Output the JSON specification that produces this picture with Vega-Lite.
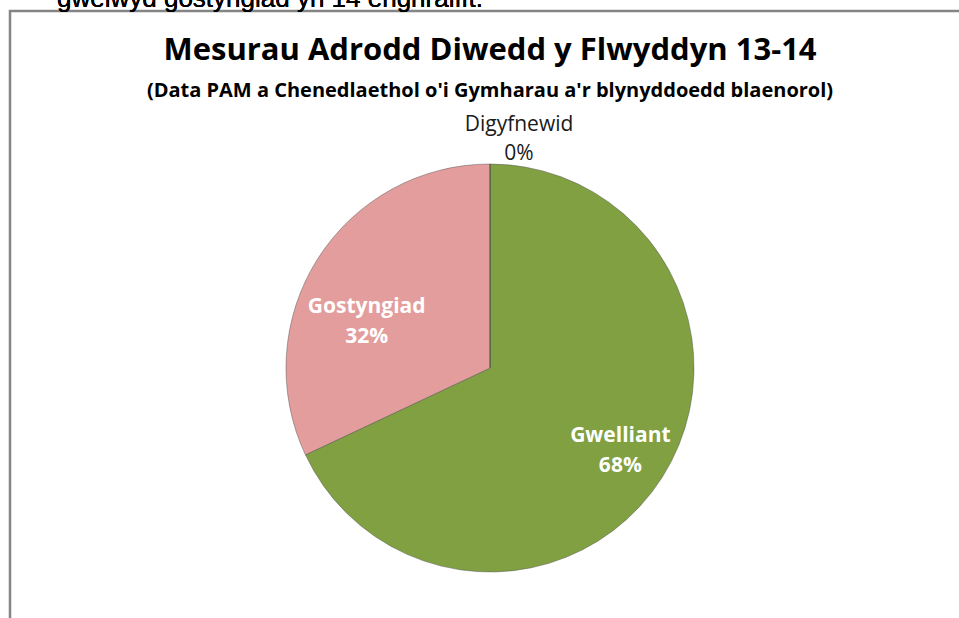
{
  "$schema": "https://vega.github.io/schema/vega-lite/v6.json",
  "autosize": {"type": "none"},
  "padding": {"left": 10, "top": 11, "right": 0, "bottom": 0},
  "width": 960,
  "height": 714,
  "background": "white",
  "config": {
    "view": {"stroke": "#858585", "strokeWidth": 2.5},
    "font": "Open Sans"
  },
  "title": {
    "text": "Mesurau Adrodd Diwedd y Flwyddyn 13-14",
    "subtitle": "(Data PAM a Chenedlaethol o'i Gymharau a'r blynyddoedd blaenorol)",
    "anchor": "middle",
    "frame": "group",
    "font": "Open Sans",
    "fontSize": 31,
    "fontWeight": "bold",
    "color": "#000000",
    "subtitleFont": "Open Sans",
    "subtitleFontSize": 20,
    "subtitleFontWeight": "bold",
    "subtitleColor": "#000000",
    "subtitlePadding": 14,
    "offset": -116
  },
  "data": {
    "values": [
      {"cat": "Gwelliant", "value": 68, "label": "Gwelliant\n68%"},
      {"cat": "Gostyngiad", "value": 32, "label": "Gostyngiad\n32%"},
      {"cat": "Digyfnewid", "value": 0, "label": "Digyfnewid\n0%"}
    ]
  },
  "layer": [
    {
      "mark": {"type": "arc", "radius": 204, "stroke": "#4d4d4d", "strokeOpacity": 0.45, "strokeWidth": 1},
      "encoding": {
        "theta": {"field": "value", "type": "quantitative", "stack": true},
        "order": {"field": "cat", "sort": "descending"},
        "color": {
          "field": "cat",
          "type": "nominal",
          "scale": {"domain": ["Gwelliant", "Gostyngiad", "Digyfnewid"], "range": ["#80a042", "#e39d9c", "#9bbb59"]},
          "legend": null
        }
      }
    },
    {
      "mark": {"type": "text", "radius": 152, "dx": 2, "dy": -13, "lineBreak": "\n", "lineHeight": 30, "font": "Open Sans", "fontSize": 21, "fontWeight": "bold", "color": "white", "align": "center", "baseline": "middle"},
      "encoding": {
        "theta": {"field": "value", "type": "quantitative", "stack": true},
        "order": {"field": "cat", "sort": "descending"},
        "text": {"condition": {"test": "datum.cat === 'Gwelliant'", "field": "label"}, "value": ""}
      }
    },
    {
      "mark": {"type": "text", "radius": 152, "dx": 5, "dy": 20, "lineBreak": "\n", "lineHeight": 30, "font": "Open Sans", "fontSize": 21, "fontWeight": "bold", "color": "white", "align": "center", "baseline": "middle"},
      "encoding": {
        "theta": {"field": "value", "type": "quantitative", "stack": true},
        "order": {"field": "cat", "sort": "descending"},
        "text": {"condition": {"test": "datum.cat === 'Gostyngiad'", "field": "label"}, "value": ""}
      }
    },
    {
      "mark": {"type": "text", "radius": 230, "dx": 29, "dy": -13, "lineBreak": "\n", "lineHeight": 29, "font": "Open Sans", "fontSize": 21, "fontWeight": "normal", "color": "#1a1a1a", "align": "center", "baseline": "middle"},
      "encoding": {
        "theta": {"field": "value", "type": "quantitative", "stack": true},
        "order": {"field": "cat", "sort": "descending"},
        "text": {"condition": {"test": "datum.cat === 'Digyfnewid'", "field": "label"}, "value": ""}
      }
    },
    {
      "mark": {"type": "text", "align": "left", "baseline": "alphabetic", "font": "Liberation Sans", "fontSize": 26, "color": "#000000", "clip": false},
      "encoding": {
        "x": {"value": 47},
        "y": {"value": -4},
        "text": {"value": "gwelwyd gostyngiad yn 14 enghraifft."}
      }
    }
  ]
}
